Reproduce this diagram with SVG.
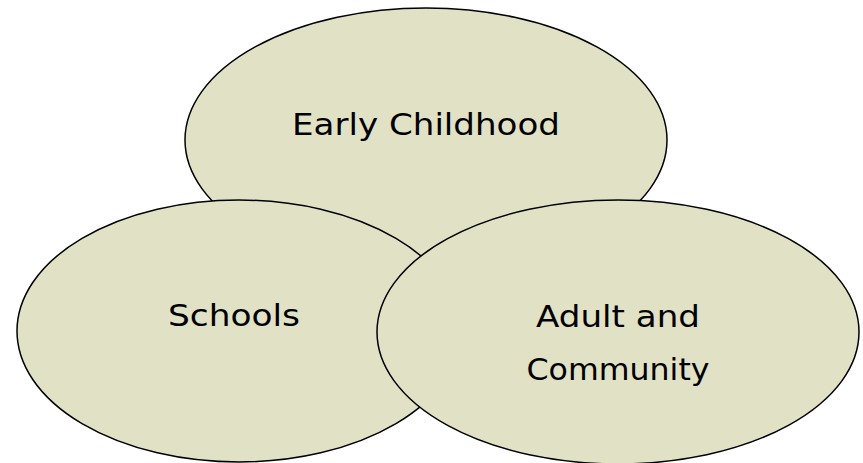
<svg xmlns="http://www.w3.org/2000/svg" width="863" height="463" viewBox="0 0 863 463">
  <style>
    .area { fill: #e1e2c5; stroke: #000; stroke-width: 1.5; }
    .label { font-family: "Comic Sans MS", "DejaVu Sans", sans-serif; font-size: 30px; fill: #000; text-anchor: middle; }
  </style>
  <rect width="863" height="463" fill="#fff"/>
  <g id="early-childhood">
    <ellipse class="area" cx="426" cy="140" rx="241" ry="132"/>
    <text class="label" x="426" y="135" textLength="268" lengthAdjust="spacingAndGlyphs">Early Childhood</text>
  </g>
  <g id="schools">
    <ellipse class="area" cx="239" cy="331" rx="222" ry="131"/>
    <text class="label" x="234" y="326" textLength="132" lengthAdjust="spacingAndGlyphs">Schools</text>
  </g>
  <g id="adult-community">
    <ellipse class="area" cx="618" cy="332" rx="241" ry="132"/>
    <text class="label" x="618" y="327" textLength="164" lengthAdjust="spacingAndGlyphs">Adult and</text>
    <text class="label" x="618" y="380" textLength="183" lengthAdjust="spacingAndGlyphs">Community</text>
  </g>
  <g id="connectors"/>
</svg>
